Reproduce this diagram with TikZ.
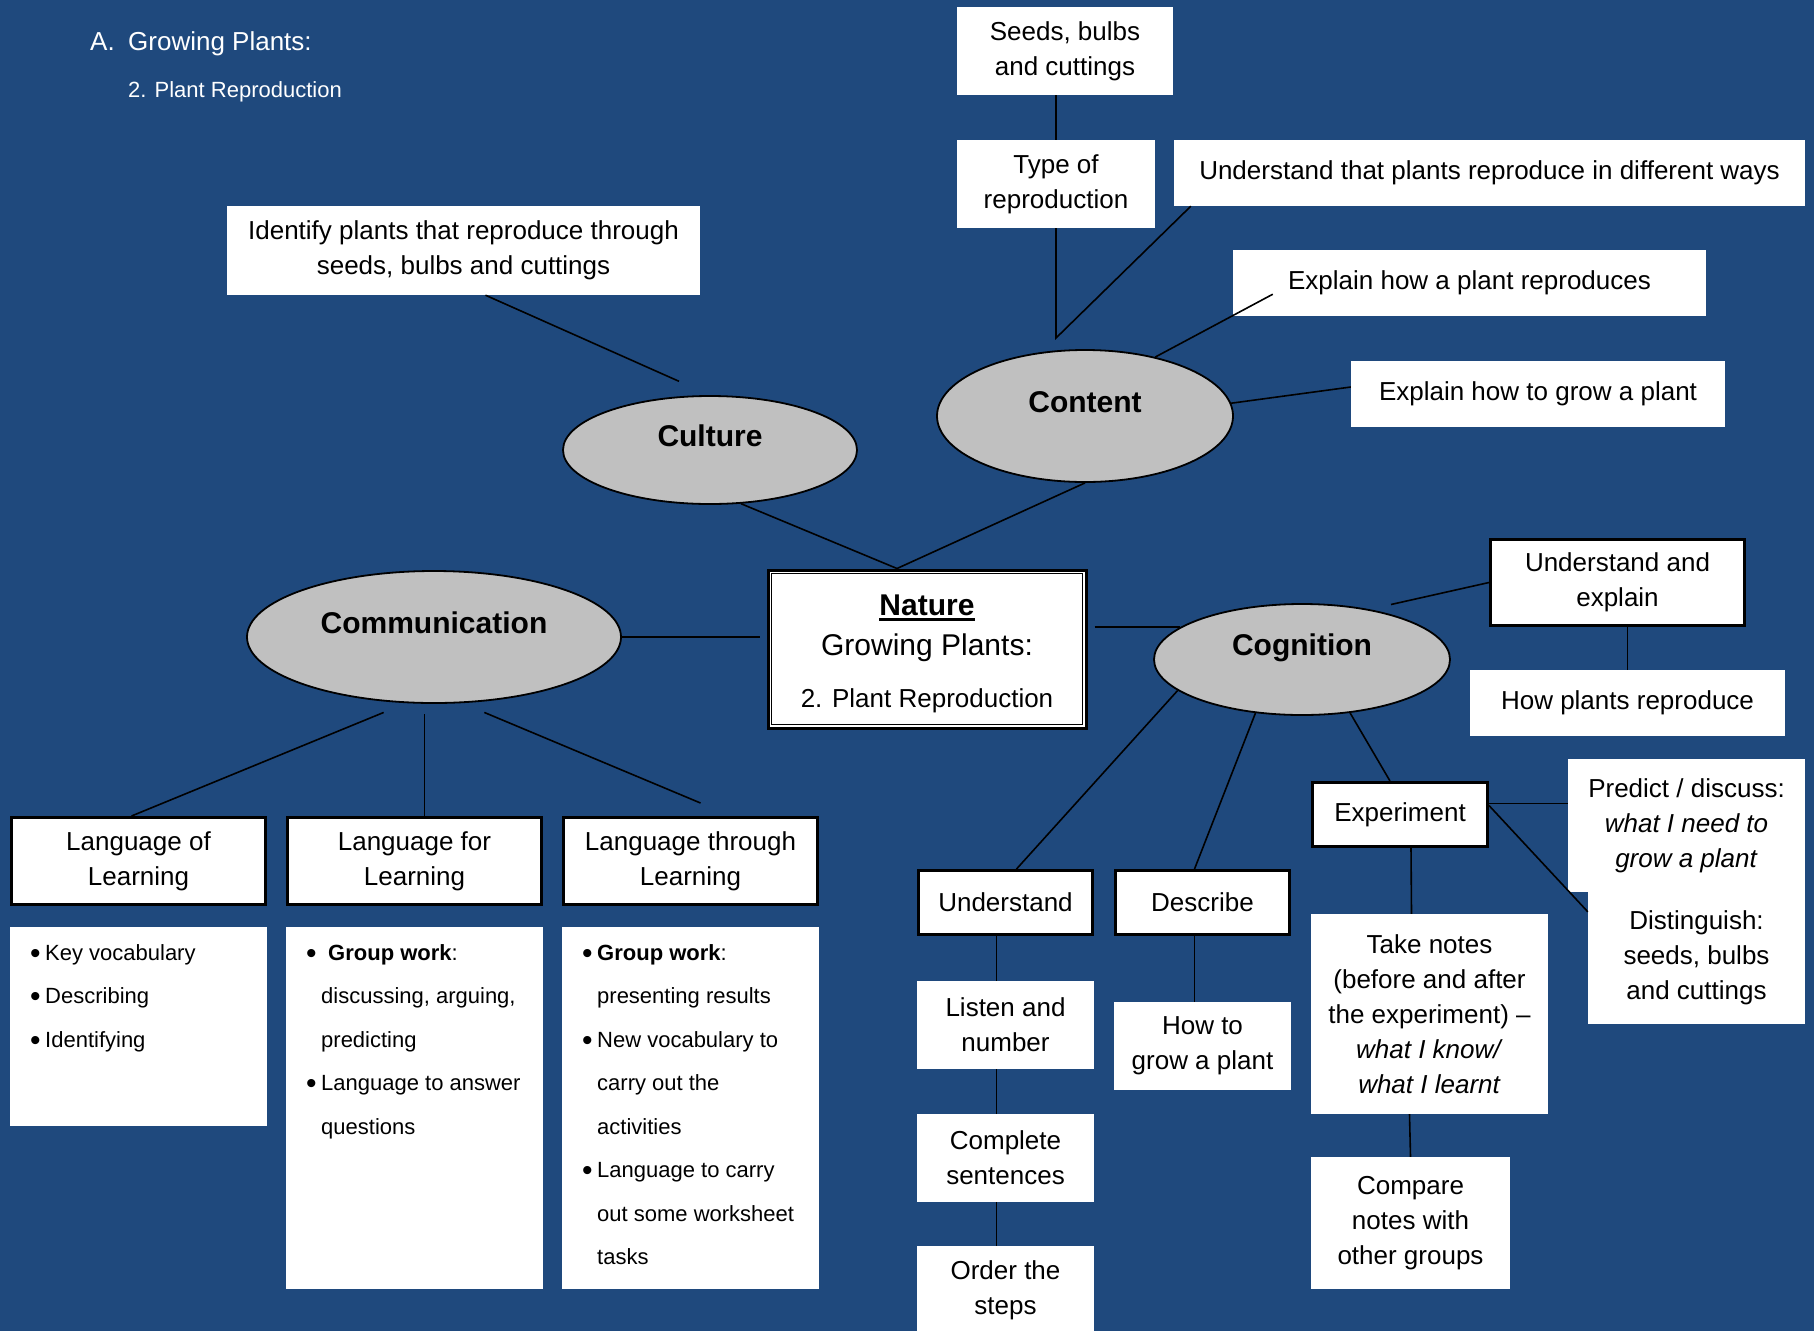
\documentclass[tikz,border=0pt]{standalone}
\usepackage{fontspec}
\setmainfont{Liberation Sans}
\usetikzlibrary{shapes.geometric,calc}
\definecolor{SlideBlue}{RGB}{31,73,125}
\definecolor{OvalGrey}{RGB}{192,192,192}
\newcommand{\bdot}{\raisebox{-3pt}{\fontsize{30}{30}\selectfont\textbullet}}
\newcommand{\bitem}{\makebox[15pt][l]{\bdot}}
\newcommand{\bgap}{\hspace*{15pt}}
\newcommand{\heavyul}[1]{\setbox0=\hbox{#1}\rlap{\rule[-5pt]{\wd0}{2.5pt}}\box0}

\begin{document}
\begin{tikzpicture}[
  x=1pt,y=-1pt,
  idea/.style={
    ellipse,draw,line width=1.8pt,fill=OvalGrey,inner sep=0pt,
    font=\fontsize{30}{36}\selectfont\bfseries,
    text height=22pt,text depth=30pt
  },
  head/.style={
    draw,line width=3pt,fill=white,inner sep=0pt,align=center,
    font=\fontsize{26}{35}\selectfont
  },
  note/.style={fill=white,inner sep=0pt,align=center,font=\fontsize{26}{35}\selectfont},
  list/.style={anchor=north west,inner sep=0pt,align=left,font=\fontsize{22}{43.5}\selectfont},
  link/.style={line width=1.6pt}
]
  \useasboundingbox (0,0) rectangle (1814,1331);
  \clip (0,0) rectangle (1814,1331);
  \fill[SlideBlue] (0,0) rectangle (1814,1331);

  \node[anchor=base west,inner sep=0pt,text=white,font=\fontsize{26}{30}\selectfont] (title)
    at (90,50) {\makebox[38pt][l]{A.}Growing Plants:};
  \node[anchor=base west,inner sep=0pt,text=white,font=\fontsize{22}{26}\selectfont] (subtitle)
    at (128,97) {2. Plant Reproduction};

  % content branch
  \node[note,minimum width=216,minimum height=88] (seeds) at (1065,51) {Seeds, bulbs\\and cuttings};
  \node[note,minimum width=198,minimum height=88] (type) at (1056,184) {Type of\\reproduction};
  \node[note,minimum width=631,minimum height=66] (ut) at (1489.5,173)
    {Understand that plants reproduce in different ways};
  \node[note,minimum width=473,minimum height=66] (exr) at (1469.5,283) {Explain how a plant reproduces};
  \node[note,minimum width=374,minimum height=66] (egr) at (1538,394) {Explain how to grow a plant};
  \node[idea,minimum width=296,minimum height=132] (cont) at (1085,416) {Content};

  % culture branch
  \node[note,minimum width=473,minimum height=89] (ident) at (463.5,250.5)
    {Identify plants that reproduce through\\seeds, bulbs and cuttings};
  \node[idea,minimum width=294,minimum height=108] (cult) at (710,450) {Culture};

  % centre
  \node[draw,line width=3pt,fill=white,minimum width=318,minimum height=158,inner sep=0pt,
    align=center,font=\fontsize{30}{40}\selectfont] (nat) at (927,649)
    {\rule{0pt}{31pt}\textbf{\heavyul{Nature}}\\Growing Plants:\\[12pt]{\fontsize{26}{30}\selectfont 2. Plant Reproduction}};
  \draw[line width=1.2pt] ([xshift=5pt,yshift=-5pt]nat.north west) rectangle ([xshift=-5pt,yshift=5pt]nat.south east);

  % communication branch
  \node[idea,minimum width=374,minimum height=132] (comm) at (434,637) {Communication};
  \node[head,minimum width=254,minimum height=87] (lof) at (138.5,861) {Language of\\Learning};
  \node[head,minimum width=254,minimum height=87] (lfor) at (414.5,861) {Language for\\Learning};
  \node[head,minimum width=254,minimum height=87] (lthr) at (690.5,861) {Language through\\Learning};
  \node[note,minimum width=257,minimum height=199] (lofl) at (138.5,1026.5) {};
  \node[note,minimum width=257,minimum height=362] (lforl) at (414.5,1108) {};
  \node[note,minimum width=257,minimum height=362] (lthrl) at (690.5,1108) {};
  \node[list] (loftxt) at (30,944) {\bitem Key vocabulary\\\bitem Describing\\\bitem Identifying};
  \node[list] (lfortxt) at (306,944)
    {\makebox[22pt][l]{\bdot}\textbf{Group work}:\\\bgap discussing, arguing,\\\bgap predicting\\
     \bitem Language to answer\\\bgap questions};
  \node[list] (lthrtxt) at (582,944)
    {\bitem\textbf{Group work}:\\\bgap presenting results\\\bitem New vocabulary to\\\bgap carry out the\\
     \bgap activities\\\bitem Language to carry\\\bgap out some worksheet\\\bgap tasks};

  % cognition branch
  \node[idea,minimum width=296,minimum height=111] (cog) at (1302,659.5) {Cognition};
  \node[head,minimum width=254,minimum height=86] (uae) at (1617.5,582.5) {Understand and\\explain};
  \node[note,minimum width=315,minimum height=66] (hpr) at (1627.5,703) {How plants reproduce};
  \node[head,minimum width=174,minimum height=64] (und) at (1005.5,902.5) {Understand};
  \node[head,minimum width=174,minimum height=64] (desc) at (1202.5,902.5) {Describe};
  \node[note,minimum width=177,minimum height=88] (lstn) at (1005.5,1025) {Listen and\\number};
  \node[note,minimum width=177,minimum height=88] (cmpl) at (1005.5,1158) {Complete\\sentences};
  \node[note,minimum width=177,minimum height=88] (ordr) at (1005.5,1290) {Order the\\steps};
  \node[note,minimum width=177,minimum height=88] (hgrow) at (1202.5,1046) {How to\\grow a plant};
  \node[head,minimum width=175,minimum height=64] (expt) at (1400,814.5) {Experiment};
  \node[note,minimum width=237,minimum height=200] (tnotes) at (1429.5,1014)
    {Take notes\\(before and after\\the experiment) –\\\textit{what I know/}\\\textit{what I learnt}};
  \node[note,minimum width=199,minimum height=132] (cmpr) at (1410.5,1223) {Compare\\notes with\\other groups};
  \node[note,minimum width=237,minimum height=133] (pred) at (1686.5,825.5)
    {Predict / discuss:\\\textit{what I need to}\\\textit{grow a plant}};
  \node[note,minimum width=217,minimum height=132] (dist) at (1696.5,958)
    {Distinguish:\\seeds, bulbs\\and cuttings};

  % connectors
  \coordinate (ctop) at (1056,338);
  \draw[link] (seeds.south -| type) -- (type);
  \draw[link] (type.south) -- (ctop) -- ([xshift=17pt]ut.south west);
  \draw[link] ([xshift=40pt,yshift=22pt]exr.south west) -- (cont.40);
  \draw[link] ([yshift=7pt]egr.west) -- (cont.5);
  \draw[link] (cont.south) -- ([xshift=-30pt]nat.north) -- (cult.300);
  \draw[link] ([xshift=22pt]ident.south) -- ([yshift=15pt]cult.120);
  \draw[link] ([xshift=-7pt,yshift=12pt]nat.west) -- (comm.east);
  \draw[link] ($(cog.165 -| nat.east)+(7,0)$) -- (cog.165);
  \draw[link] ([yshift=-11pt]comm.232) -- ([xshift=-7pt]lof.north);
  \draw[link] ([xshift=10pt]lfor.north) -- ++(0,-102);
  \draw[link] ([yshift=-11pt]comm.308) -- ([xshift=10pt,yshift=13pt]lthr.north);
  \draw[link] ($(cog.center)+(89,-55)$) -- (uae.west);
  \draw[link] (uae.south -| hpr) -- (hpr.north);
  \draw[link] (cog.194) -- ([xshift=11pt]und.north);
  \draw[link] (cog.229) -- ([xshift=-8pt]desc.north);
  \draw[link] (cog.312) -- ([xshift=-10pt]expt.north);
  \foreach \a/\b in {und/lstn,lstn/cmpl,cmpl/ordr}
    \draw[link] ([xshift=-9pt]\a.south) -- ([xshift=-9pt]\b.north);
  \draw[link] ([xshift=-8pt]desc.south) -- ([xshift=-8pt]hgrow.north);
  \draw[link] ([xshift=11pt]expt.south) -- ([xshift=-18pt]tnotes.north);
  \draw[link] ([xshift=-20pt]tnotes.south) -- (cmpr.north);
  \draw[link] ($(expt.east)+(0,-11)$) -- ($(expt.east -| pred.west)+(0,-11)$);
  \draw[link] ($(expt.east)+(0,-9)$) -- ($(dist.north west)+(0,20)$);
\end{tikzpicture}
\end{document}
